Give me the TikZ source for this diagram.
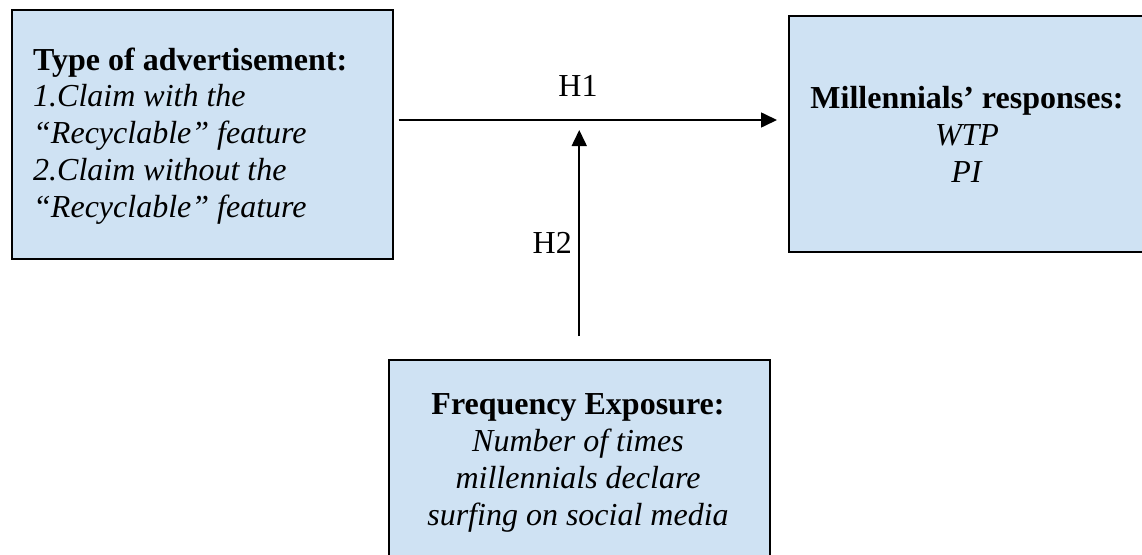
\documentclass[tikz,border=0pt]{standalone}
\usepackage{fontspec}
\setmainfont{Liberation Serif}
\usetikzlibrary{arrows.meta}
\definecolor{boxfill}{RGB}{207,226,243}
\tikzset{
  panel/.style={draw=black, line width=1.5pt, fill=boxfill, inner sep=0pt},
  conn/.style={draw=black, line width=1.6pt, -{Triangle[length=16pt,width=15pt]}},
  body/.style={font=\fontsize{32}{36.7}\selectfont, inner sep=0pt},
}
\begin{document}
\begin{tikzpicture}[x=1pt,y=-1pt]
\useasboundingbox (0,0) rectangle (1142,554);
\clip (0,0) rectangle (1142,554);

% boxes
\node[panel, minimum width=381pt, minimum height=249pt, anchor=north west] (adv) at (11,9) {};
\node[panel, minimum width=358pt, minimum height=236pt, anchor=north west] (resp) at (788,15) {};
\node[panel, minimum width=381pt, minimum height=249pt, anchor=north west] (freq) at (388,359) {};

% box texts (base anchor = baseline of the last line)
\node[body, anchor=base west, align=left] (advtext) at (33,217)
  {\textbf{Type of advertisement:}\\
   \textit{1.Claim with the}\\
   \textit{“Recyclable” feature}\\
   \textit{2.Claim without the}\\
   \textit{“Recyclable” feature}};
\node[body, anchor=base, align=center] (resptext) at (967,182)
  {\textbf{Millennials’ responses:}\\
   \textit{WTP}\\
   \textit{PI}};
\node[body, anchor=base, align=center] (freqtext) at (578,525)
  {\textbf{Frequency Exposure:}\\
   \textit{Number of times}\\
   \textit{millennials declare}\\
   \textit{surfing on social media}};

% connectors
\coordinate (h1y) at (0,120);
\coordinate (mod) at (579,130);
\draw[conn, shorten <=5pt, shorten >=11pt] (adv.east |- h1y) -- (resp.west |- h1y);
\draw[conn, shorten <=23pt] (freq.north) -- (freq.north |- mod);

% hypothesis labels
\node[body, anchor=base] (h1) at (578,96) {H1};
\node[body, anchor=base east] (h2) at (572,253) {H2};
\end{tikzpicture}
\end{document}
